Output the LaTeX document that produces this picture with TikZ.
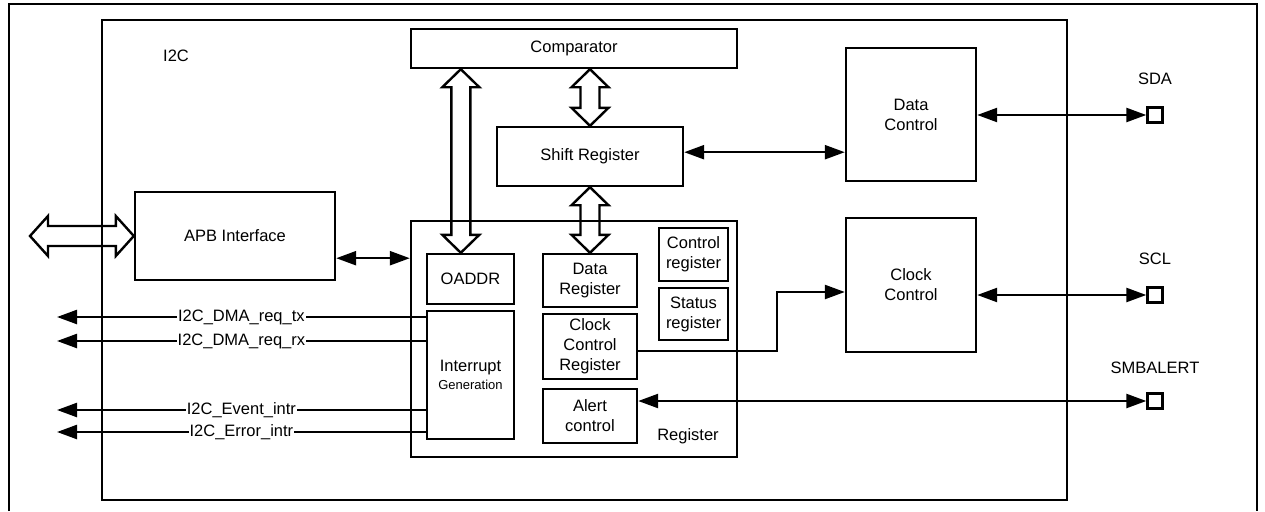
\documentclass[tikz,border=0pt]{standalone}
\usepackage{fontspec}
\setmainfont{Liberation Sans}
\usetikzlibrary{arrows.meta,positioning,calc}
\newcommand{\vfat}[2]{\draw[fat] (#1) -- ++(18.5,18) -- ++(-9,0) -- ($(#2)+(9.5,-18)$) -- ++(9,0) -- (#2) -- ++(-18.5,-18) -- ++(9,0) -- ($(#1)+(-9.5,18)$) -- ++(-9,0) -- cycle;}
\newcommand{\hfat}[2]{\draw[fat] (#1) -- ++(18,-20) -- ++(0,10) -- ($(#2)+(-18,-10)$) -- ++(0,-10) -- (#2) -- ++(-18,20) -- ++(0,-10) -- ($(#1)+(18,10)$) -- ++(0,10) -- cycle;}

\begin{document}
\begin{tikzpicture}[x=1pt,y=-1pt,font=\fontsize{16.5}{20}\selectfont,
  box/.style={draw,line width=2.4pt,align=center,inner sep=0pt},
  pad/.style={draw,line width=2.4pt,minimum size=15pt,inner sep=0pt},
  txt/.style={inner sep=0pt},
  lbl/.style={fill=white,inner sep=1pt},
  fat/.style={draw,line width=2.4pt,line join=miter},
  sig/.style={line width=2.4pt,-{Triangle[length=20pt,width=14pt]}},
  both/.style={line width=2.4pt,{Triangle[length=20pt,width=14pt]}-{Triangle[length=20pt,width=14pt]}}]
\useasboundingbox (0,0) rectangle (1265,511);
\draw[line width=2.2pt] (9,511) -- (9,4) -- (1257,4) -- (1257,511);
\node[box,line width=2.8pt,minimum width=965pt,minimum height=480pt] (i2c) at (584.5,260) {};
\node[txt] (i2cl) at (176,56) {I2C};
\node[box,minimum width=326pt,minimum height=39pt] (comp) at (574,48.5) {Comparator};
\node[box,minimum width=186pt,minimum height=59pt] (shift) at (590,156.5) {Shift Register};
\node[box,minimum width=130pt,minimum height=133pt] (datactl) at (911,114.5) {Data\\Control};
\node[box,minimum width=130pt,minimum height=134pt] (clkctl) at (911,285) {Clock\\Control};
\node[box,minimum width=200pt,minimum height=88pt] (apb) at (235,236) {APB Interface};
\node[box,minimum width=326pt,minimum height=236pt] (reg) at (574,339) {};
\node[txt] (regl) at (688,436) {Register};
\node[box,minimum width=87pt,minimum height=50pt] (oaddr) at (470.5,279) {OADDR};
\node[box,minimum width=87pt,minimum height=128pt] (intr) at (470.5,375) {Interrupt\\[-2pt]\fontsize{13}{16}\selectfont Generation};
\node[box,minimum width=94pt,minimum height=53pt] (datareg) at (590,280.5) {Data\\Register};
\node[box,minimum width=94pt,minimum height=65pt] (ccr) at (590,346.5) {Clock\\Control\\Register};
\node[box,minimum width=94pt,minimum height=54pt] (alert) at (590,416) {Alert\\control};
\node[box,minimum width=69pt,minimum height=53pt] (ctrlreg) at (693.5,254.5) {Control\\register};
\node[box,minimum width=69pt,minimum height=52pt] (statreg) at (693.5,314) {Status\\register};
\node[pad] (sda) at (1155,115) {};
\node[pad] (scl) at (1155,295) {};
\node[pad] (smb) at (1155,401) {};
\node[txt,above=21pt of sda] (sdal) {SDA};
\node[txt,above=21pt of scl] (scll) {SCL};
\node[txt,above=18pt of smb] (smbl) {SMBALERT};
\coordinate (bus) at (30,236);
\coordinate (ct) at ($(comp.south west)+(51,0)$);
\coordinate (ob) at (ct |- oaddr.north);
\coordinate (dc) at ($(datactl.south west)+(0,-30)$);
\coordinate (ap) at ($(apb.south east)+(0,-23)$);
\coordinate (cr) at ($(ccr.east)+(0,4.5)$);
\coordinate (ck) at ($(clkctl.west)+(0,7)$);
\coordinate (t1) at (57,317); \coordinate (t2) at (57,341);
\coordinate (t3) at (57,410); \coordinate (t4) at (57,432);
\hfat{bus}{apb.west}
\vfat{ct}{ob}
\vfat{shift.north |- comp.south}{shift.north}
\vfat{shift.south}{datareg.north}
\draw[both] (ap) -- (reg.west |- ap);
\draw[both] (shift.east |- dc) -- (dc);
\draw[both] (datactl.east |- sda) -- (sda.west);
\draw[both] (clkctl.east |- scl) -- (scl.west);
\draw[both] (alert.east |- smb) -- (smb.west);
\draw[sig] (cr) -- ++(139,0) |- (ck);
\draw[sig] (intr.west |- t1) -- node[lbl]{I2C\_DMA\_req\_tx} (t1);
\draw[sig] (intr.west |- t2) -- node[lbl]{I2C\_DMA\_req\_rx} (t2);
\draw[sig] (intr.west |- t3) -- node[lbl]{I2C\_Event\_intr} (t3);
\draw[sig] (intr.west |- t4) -- node[lbl]{I2C\_Error\_intr} (t4);
\end{tikzpicture}
\end{document}
